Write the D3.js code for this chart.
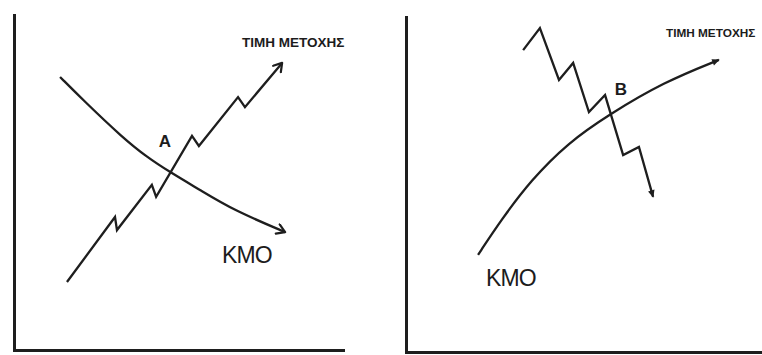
<!DOCTYPE html>
<html>
<head>
<meta charset="utf-8">
<script src="https://cdn.jsdelivr.net/npm/d3@7/dist/d3.min.js"></script>
<style>
  html, body { margin: 0; padding: 0; background: #fff; }
  svg { display: block; }
  text { font-family: "Liberation Sans", Arial, sans-serif; fill: #1c1c1c; }
</style>
</head>
<body>
<svg id="chart" width="762" height="355"></svg>
<script>
// Panel A: share price rising through a falling moving average (ΚΜΟ)
const priceUpX = [16.1, 30.7, 31.3, 41.9, 43.2, 54.1, 56.2, 68.1, 70.2, 81.5];
const priceUpY = [20.3, 39.7, 35.8, 49.3, 45.7, 63.9, 60.9, 75.5, 72.5, 85.7];
const maDownX = [14.0, 21.0, 33.1, 40.4, 47.4, 56.5, 66.6, 82.4];
const maDownY = [81.5, 74.6, 63.3, 57.6, 53.1, 47.8, 41.8, 35.2];

// Panel B: share price falling through a rising moving average
const priceDownX = [35.6, 40.7, 46.5, 50.8, 55.6, 60.5, 66.0, 70.8, 75.1];
const priceDownY = [90.1, 96.7, 81.2, 86.3, 71.6, 76.7, 58.8, 61.2, 46.3];
const maUpX = [21.9, 28.9, 38.0, 49.2, 61.4, 78.4, 95.1];
const maUpY = [29.0, 39.4, 51.3, 62.4, 70.7, 80.6, 87.2];

// Labels
const priceLabel = "ΤΙΜΗ ΜΕΤΟΧΗΣ";
const maLabel = "ΚΜΟ";
const crossLabels = ["A", "B"];

const svg = d3.select("#chart");
const ink = "#1e1e1e";
const pageWidth = +svg.attr("width");

const defs = svg.append("defs");
defs.append("marker")
  .attr("id", "openArrow")
  .attr("viewBox", "-10 -6 12 12")
  .attr("refX", 0).attr("refY", 0)
  .attr("markerWidth", 12).attr("markerHeight", 12)
  .attr("markerUnits", "userSpaceOnUse")
  .attr("orient", "auto")
  .append("path")
  .attr("d", "M-8,-5 L0,0 L-8,5")
  .attr("fill", "none").attr("stroke", ink).attr("stroke-width", 2.2)
  .attr("stroke-linecap", "round").attr("stroke-linejoin", "round");
defs.append("marker")
  .attr("id", "solidArrow")
  .attr("viewBox", "-10 -6 12 12")
  .attr("refX", 0).attr("refY", 0)
  .attr("markerWidth", 10).attr("markerHeight", 10)
  .attr("markerUnits", "userSpaceOnUse")
  .attr("orient", "auto")
  .append("path")
  .attr("d", "M-8,-4 L1,0 L-8,4 Z")
  .attr("fill", ink);

const panels = [
  {
    xRange: [14, 343], xMax: 100, yRange: [350, 15],
    price: { xs: priceUpX, ys: priceUpY },
    ma: { xs: maDownX, ys: maDownY },
    marker: "openArrow",
    cross: { text: crossLabels[0], x: 45.9, y: 61.8 },
    title: { x: 69.3, y: 90.4 },
    maText: { x: 63.2, y: 26.0 }
  },
  {
    xRange: [406, 762], xMax: 108.2, yRange: [352, 17],
    price: { xs: priceDownX, ys: priceDownY },
    ma: { xs: maUpX, ys: maUpY },
    marker: "solidArrow",
    cross: { text: crossLabels[1], x: 65.3, y: 78.2 },
    title: { x: 79.0, y: 94.0 },
    maText: { x: 24.3, y: 19.7 }
  }
];

panels.forEach(p => {
  const x = d3.scaleLinear().domain([0, p.xMax]).range(p.xRange);
  const y = d3.scaleLinear().domain([0, 100]).range(p.yRange);
  const g = svg.append("g");

  // Axes: plain lines, no ticks
  const xAxis = g.append("g")
    .attr("transform", `translate(0,${y(0)})`)
    .call(d3.axisBottom(x).tickValues([]).tickSizeOuter(0));
  const yAxis = g.append("g")
    .attr("transform", `translate(${x(0)},0)`)
    .call(d3.axisLeft(y).tickValues([]).tickSizeOuter(0));
  [xAxis, yAxis].forEach(a => a.select(".domain")
    .attr("stroke", ink).attr("stroke-width", 3).attr("stroke-linecap", "square"));

  // Moving average curve
  const maPts = p.ma.xs.map((v, i) => [v, p.ma.ys[i]]);
  g.append("path")
    .datum(maPts)
    .attr("d", d3.line().x(d => x(d[0])).y(d => y(d[1])).curve(d3.curveBasis))
    .attr("fill", "none").attr("stroke", ink).attr("stroke-width", 2.3)
    .attr("marker-end", `url(#${p.marker})`);

  // Share price zigzag
  const prPts = p.price.xs.map((v, i) => [v, p.price.ys[i]]);
  g.append("path")
    .datum(prPts)
    .attr("d", d3.line().x(d => x(d[0])).y(d => y(d[1])))
    .attr("fill", "none").attr("stroke", ink).attr("stroke-width", 2.3)
    .attr("stroke-linejoin", "miter")
    .attr("marker-end", `url(#${p.marker})`);

  // Labels
  const tx = x(p.title.x);
  let fs = 13.5;
  const title = g.append("text")
    .attr("x", tx).attr("y", y(p.title.y))
    .attr("font-size", fs).attr("font-weight", "bold")
    .text(priceLabel);
  // shrink the title if it would run past the right edge of the page
  const avail = pageWidth - 6 - tx;
  const w = title.node().getBBox().width;
  if (w > avail) {
    fs = Math.floor(fs * avail / w * 10) / 10;
    title.attr("font-size", fs);
  }
  g.append("text")
    .attr("x", x(p.cross.x)).attr("y", y(p.cross.y))
    .attr("text-anchor", "middle").attr("dominant-baseline", "middle")
    .attr("font-size", 17).attr("font-weight", "bold")
    .text(p.cross.text);
  g.append("text")
    .attr("x", x(p.maText.x)).attr("y", y(p.maText.y))
    .attr("font-size", 23).attr("letter-spacing", -0.8)
    .text(maLabel);
});
</script>
</body>
</html>
